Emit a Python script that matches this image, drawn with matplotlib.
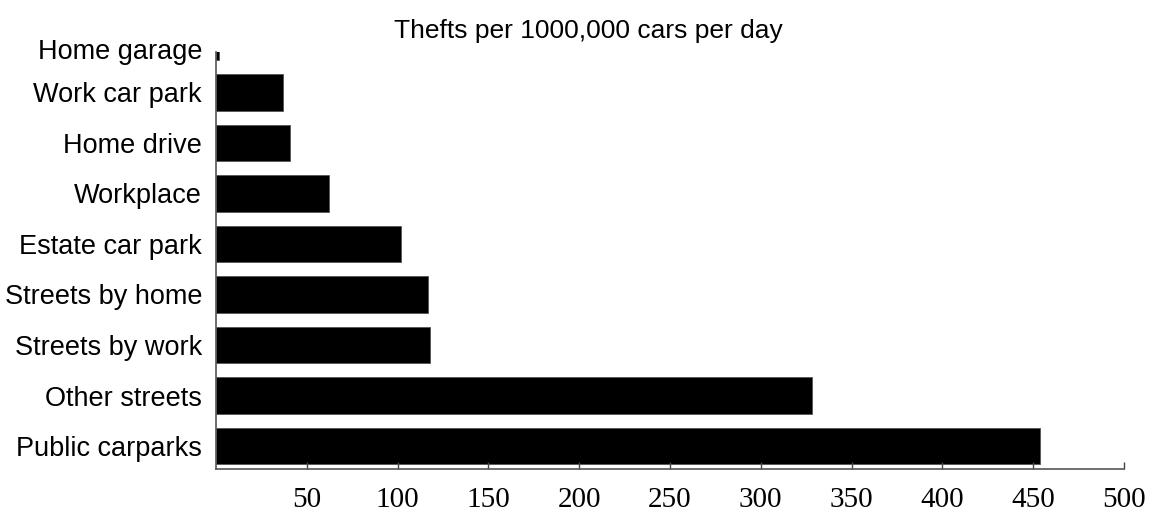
import matplotlib.pyplot as plt
import numpy as np

# data, bottom to top
places = ["Public carparks", "Other streets", "Streets by work", "Streets by home",
          "Estate car park", "Workplace", "Home drive", "Work car park", "Home garage"]
thefts = [454, 328, 118, 117, 102, 62, 41, 37, 1.5]
xticks = [50, 100, 150, 200, 250, 300, 350, 400, 450, 500]

fig = plt.figure(figsize=(11.49, 5.11), dpi=100)
ax = fig.add_axes([216/1149, 42/511, (1124-216)/1149, (469-52)/511])

y = np.arange(len(places))
ax.barh(y, thefts, height=0.72, color="black", edgecolor="#555555", linewidth=0.6)

ax.set_xlim(0, 500)
ax.set_ylim(-0.455, 7.8)

ax.set_xticks(xticks)
ax.set_xticklabels([str(t) for t in xticks], family="Liberation Serif", fontsize=21)
# top label sits above the clipped bar, so place it by hand
ax.set_yticks(y[:-1])
ax.set_yticklabels(places[:-1], family="Liberation Sans", fontsize=19.5)
ax.text(-14/908, 7.8, places[-1], transform=ax.get_yaxis_transform(),
        ha="right", va="center", family="Liberation Sans", fontsize=19.5)

ax.tick_params(axis="x", direction="in", length=5, width=1, color="#444444", pad=13)
ax.tick_params(axis="y", length=0, pad=10)

for s in ["top", "right"]:
    ax.spines[s].set_visible(False)
ax.spines["left"].set_color("#555555")
ax.spines["bottom"].set_color("#555555")
ax.spines["left"].set_linewidth(1.2)
ax.spines["bottom"].set_linewidth(1.2)

fig.text(588/1149, 1 - 31/511, "Thefts per 1000,000 cars per day",
         ha="center", va="center", family="Liberation Sans", fontsize=19)

fig.savefig("out.png", dpi=100)
